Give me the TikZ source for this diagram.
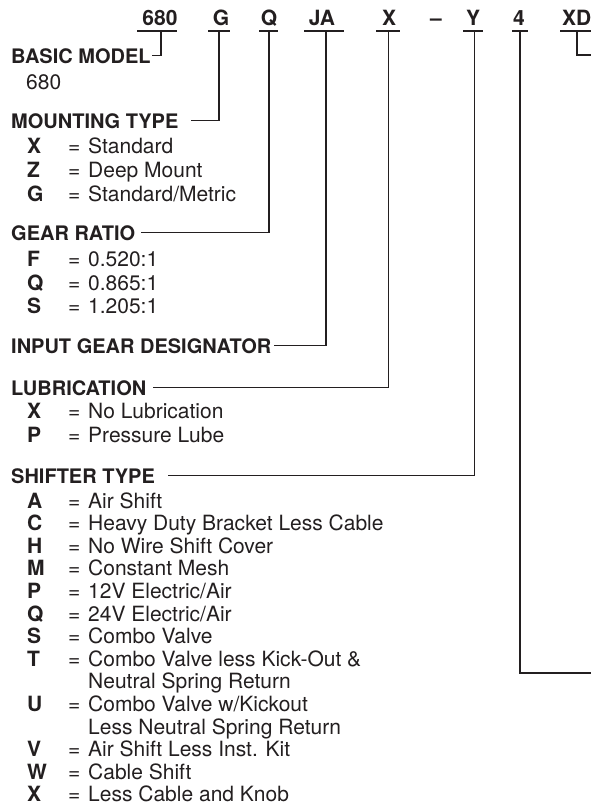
\documentclass[tikz,border=0pt]{standalone}
\usepackage{fontspec}
\setmainfont{TeX Gyre Heros}
\definecolor{ink}{HTML}{231F20}
\newcommand\entry[4]{%
  \node[keyl] (#1k) at (27,#2) {#3};
  \node[txt] (#1e) at (68,#2) {=};
  \node[txt] (#1d) at (88,#2) {#4};}
\begin{document}
\begin{tikzpicture}[x=1pt,y=-1pt,
  txt/.style={inner sep=0pt, anchor=base west, text height=15pt, text depth=0pt,
    font=\fontsize{21}{23}\selectfont, text=ink},
  hdr/.style={txt, font=\fontsize{20}{23}\selectfont\bfseries},
  keyl/.style={txt, font=\fontsize{21}{23}\selectfont\bfseries},
  toplbl/.style={inner sep=0pt, anchor=base, font=\fontsize{21}{23}\selectfont\bfseries, text=ink},
  wire/.style={draw=ink, line width=1.8pt}]
\useasboundingbox (0,0) rectangle (591,806);

% top code
\node[toplbl] (l680) at (160,25) {680};
\node[toplbl] (lG) at (221,25) {G};
\node[toplbl] (lQ) at (269,25) {Q};
\node[toplbl] (lJA) at (322,25) {JA};
\node[toplbl] (lX) at (389,25) {X};
\node[toplbl] (ldash) at (436,25) {–};
\node[toplbl] (lY) at (473,25) {Y};
\node[toplbl] (l4) at (519,25) {4};
\node[toplbl, anchor=base west] (lXD) at (562,25) {XD};

% bars
\draw[wire] (137,31) -- (177,31);
\draw[wire] (208,31) -- (230,31);
\draw[wire] (259,31) -- (278,31);
\draw[wire] (304,31) -- (344,31);
\draw[wire] (376,31) -- (400,31);
\draw[wire] (463,31) -- (483,31);
\draw[wire] (512,31) -- (528,31);
\draw[wire] (560,31) -- (595,31);

\coordinate (c680) at (161,31);
\coordinate (cG) at (219,31);
\coordinate (cQ) at (269,31);
\coordinate (cJA) at (326,31);
\coordinate (cX) at (388.5,31);
\coordinate (cY) at (474.5,31);
\coordinate (c4) at (520,31);
\coordinate (cXD) at (577,31);
\coordinate (e4) at (595,673);
\coordinate (eXD) at (595,55);

% headers
\node[hdr] (basic) at (11,63) {BASIC MODEL};
\node[txt] (basicv) at (26,89) {680};

\node[hdr] (mount) at (11,128) {MOUNTING TYPE};
\entry{mX}{153}{X}{Standard}
\entry{mZ}{177}{Z}{Deep Mount}
\entry{mG}{201}{G}{Standard/Metric}

\node[hdr] (gear) at (11,240) {GEAR RATIO};
\entry{gF}{266}{F}{0.520:1}
\entry{gQ}{290}{Q}{0.865:1}
\entry{gS}{313}{S}{1.205:1}

\node[hdr] (input) at (11,353) {INPUT GEAR DESIGNATOR};

\node[hdr] (lube) at (11,395) {LUBRICATION};
\entry{lX}{418}{X}{No Lubrication}
\entry{lP}{442}{P}{Pressure Lube}

\node[hdr] (shift) at (11,483) {SHIFTER TYPE};
\entry{sA}{508}{A}{Air Shift}
\entry{sC}{530.6}{C}{Heavy Duty Bracket Less Cable}
\entry{sH}{553.2}{H}{No Wire Shift Cover}
\entry{sM}{575.8}{M}{Constant Mesh}
\entry{sP}{598.4}{P}{12V Electric/Air}
\entry{sQ}{621}{Q}{24V Electric/Air}
\entry{sS}{643.6}{S}{Combo Valve}
\entry{sT}{666.2}{T}{Combo Valve less Kick-Out \&}
\node[txt] (sT2) at (88,688.8) {Neutral Spring Return};
\entry{sU}{711.4}{U}{Combo Valve w/Kickout}
\node[txt] (sU2) at (88,734) {Less Neutral Spring Return};
\entry{sV}{756.6}{V}{Air Shift Less Inst. Kit}
\entry{sW}{779.2}{W}{Cable Shift}
\entry{sX}{801.8}{X}{Less Cable and Knob}

% connectors
\draw[wire] (c680) |- ([xshift=1pt]basic.east);
\draw[wire] (cG) |- ([xshift=12pt]mount.east);
\draw[wire] (cQ) |- ([xshift=6pt]gear.east);
\draw[wire] (cJA) |- ([xshift=2pt]input.east);
\draw[wire] (cX) |- ([xshift=7pt]lube.east);
\draw[wire] (cY) |- ([xshift=12.5pt]shift.east);
\draw[wire] (c4) |- (e4);
\draw[wire] (cXD) |- (eXD);
\end{tikzpicture}
\end{document}
